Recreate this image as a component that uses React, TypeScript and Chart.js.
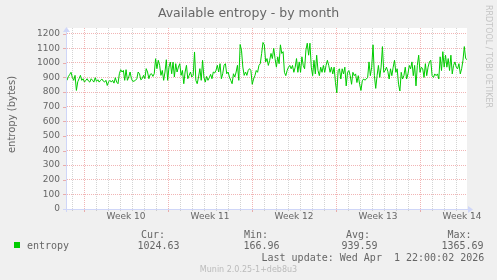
import { useEffect, useRef } from 'react';
import { Chart, registerables } from 'chart.js';

Chart.register(...registerables);

// ---------- data ----------
const TITLE = 'Available entropy - by month';
const Y_LABEL = 'entropy (bytes)';
const SERIES_NAME = 'entropy';
const SIDE_TEXT = 'RRDTOOL / TOBI OETIKER';
const FOOTER = 'Munin 2.0.25-1+deb8u3';
const LAST_UPDATE = 'Last update: Wed Apr  1 22:00:02 2026';

const RANGE_HOURS = 800; // graph spans 800 hours
const FIRST_DAY_HOUR = 10; // first midnight after the graph start
const FIRST_WEEK_HOUR = 34; // first week boundary after the graph start
const WEEK_LABELS = ['Week 10', 'Week 11', 'Week 12', 'Week 13', 'Week 14'];
const Y_TICKS = [0, 100, 200, 300, 400, 500, 600, 700, 800, 900, 1000, 1100, 1200];
const Y_MAX = 1238;

const LEGEND_HEADERS = ['Cur:', 'Min:', 'Avg:', 'Max:'];
const LEGEND_VALUES = ['1024.63', '166.96', '939.59', '1365.69'];

const entropy = [
  880, 905, 920, 935, 900, 880, 914, 811, 870, 891, 914, 880, 891, 868, 880, 891, 875, 868, 891, 880,
  868, 898, 873, 884, 868, 880, 889, 875, 868, 880, 845, 870, 880, 868, 880, 861, 898, 868, 857,
  925, 953, 937, 948, 880, 953, 880, 903, 937, 891,
  873, 875, 880, 891, 937, 925, 884, 891, 914, 891,
  960, 937, 891, 921, 925, 907, 925, 1028, 960, 1017,
  983, 914, 948, 880, 937, 1021, 880, 971, 1005, 925,
  1005, 903, 994, 937, 971, 994, 914, 948, 857, 937,
  983, 891, 914, 937, 903, 914, 1074, 880, 857, 903,
  960, 880, 1017, 903, 868, 907, 880, 898, 921, 891,
  937, 930, 948, 983, 937, 994, 891, 925, 983, 994,
  925, 937, 903, 880, 857, 925, 903, 937, 983, 880,
  1125, 1086, 971, 914, 937, 914, 948, 960,
  947, 853, 889, 912, 947, 935, 982, 994, 1064, 1139,
  1123, 1006, 1029, 982, 1017, 1064, 1029, 1099, 1029, 970,
  1041, 994, 1123, 1064, 1076, 935, 912, 947, 970, 982,
  959, 982, 935, 970, 1029, 935, 1006, 935, 1041, 982,
  959, 1088, 1134, 1052, 1134, 970, 912, 1017, 924, 1052,
  947, 912, 970, 935, 982, 935, 982, 1017, 982, 935,
  970, 924, 970, 865, 795, 947, 959, 889, 959, 924,
  970, 842, 935, 947, 912, 853, 935, 912, 924, 865,
  912, 853, 811, 877, 889, 881, 889, 900, 1006, 912,
  970, 1123, 912, 825, 912, 982, 900, 970, 1111, 935,
  947, 970, 942, 889, 959, 912, 970, 1017, 935, 959,
  853, 807, 935, 889, 912, 970, 889, 924, 982, 959,
  1006, 912, 982, 842, 982, 1052, 935, 970, 959, 900,
  994, 912, 970, 1006, 1017, 912, 900, 924, 912, 924,
  889, 1041, 947, 1076, 970, 1052, 970, 1029, 947, 1052,
  924, 982, 1006, 970, 959, 994, 924, 959, 1017, 1111,
  1029, 1022,
];

// ---------- derived ----------
const DAY_TICKS: number[] = [];
for (let h = FIRST_DAY_HOUR; h <= RANGE_HOURS; h += 24) DAY_TICKS.push(h);
const WEEK_CENTERS = WEEK_LABELS.map((_, i) => FIRST_WEEK_HOUR + 84 + 168 * i);
const X_TICKS = [...DAY_TICKS, ...WEEK_CENTERS].sort((a, b) => a - b);
const isWeekBoundary = (v: number) => (v - FIRST_WEEK_HOUR) % 168 === 0;

const points = entropy.map((v, i) => ({ x: (i * RANGE_HOURS) / (entropy.length - 1), y: v }));

const MAJOR = 'rgba(222,79,79,0.42)';
const MINOR = 'rgba(143,143,143,0.38)';
const AXIS = '#CFD6F8';
const FONT = '#666666';

const rrdPlugin = {
  id: 'rrd',
  beforeDraw(chart: any) {
    const { ctx, chartArea: ca, width, height } = chart;
    ctx.save();
    ctx.fillStyle = '#F0F0F0';
    ctx.fillRect(0, 0, width, height);
    ctx.fillStyle = '#FFFFFF';
    ctx.fillRect(ca.left, ca.top, ca.right - ca.left, ca.bottom - ca.top);
    ctx.restore();
  },
  afterDraw(chart: any) {
    const { ctx, chartArea: ca } = chart;
    const xs = chart.scales.x;
    const ys = chart.scales.y;
    ctx.save();
    // small tick marks outside the plot
    ctx.lineWidth = 1;
    ctx.strokeStyle = MAJOR;
    Y_TICKS.forEach((v) => {
      const y = Math.round(ys.getPixelForValue(v)) + 0.5;
      ctx.beginPath();
      ctx.moveTo(ca.left - 4, y);
      ctx.lineTo(ca.left, y);
      ctx.stroke();
    });
    DAY_TICKS.forEach((v) => {
      const x = Math.round(xs.getPixelForValue(v)) + 0.5;
      ctx.strokeStyle = isWeekBoundary(v) ? MAJOR : MINOR;
      ctx.beginPath();
      ctx.moveTo(x, ca.bottom);
      ctx.lineTo(x, ca.bottom + (isWeekBoundary(v) ? 3 : 2));
      ctx.stroke();
    });
    // axes with arrows
    ctx.strokeStyle = AXIS;
    ctx.fillStyle = AXIS;
    const ax = ca.left - 0.5;
    const ay = ca.bottom + 0.5;
    ctx.beginPath();
    ctx.moveTo(ca.left - 4, ay);
    ctx.lineTo(ca.right + 2, ay);
    ctx.moveTo(ax, ca.bottom + 3);
    ctx.lineTo(ax, ca.top + 3);
    ctx.stroke();
    ctx.beginPath();
    ctx.moveTo(ca.right + 6, ay);
    ctx.lineTo(ca.right + 1, ay - 3.5);
    ctx.lineTo(ca.right + 1, ay + 3.5);
    ctx.closePath();
    ctx.fill();
    ctx.beginPath();
    ctx.moveTo(ax, ca.top - 1);
    ctx.lineTo(ax - 3.5, ca.top + 4);
    ctx.lineTo(ax + 3.5, ca.top + 4);
    ctx.closePath();
    ctx.fill();

    // texts
    ctx.fillStyle = FONT;
    ctx.textBaseline = 'alphabetic';
    ctx.font = '12.5px "DejaVu Sans"';
    ctx.textAlign = 'center';
    ctx.fillText(TITLE, 248.5, 17);

    ctx.save();
    ctx.font = '10px "DejaVu Sans"';
    ctx.translate(15, 114.5);
    ctx.rotate(-Math.PI / 2);
    ctx.textAlign = 'center';
    ctx.fillText(Y_LABEL, 0, 0);
    ctx.restore();

    ctx.save();
    ctx.fillStyle = '#C4C4C4';
    ctx.font = '8px "DejaVu Sans"';
    ctx.translate(486, 5);
    ctx.rotate(Math.PI / 2);
    ctx.textAlign = 'left';
    ctx.fillText(SIDE_TEXT, 0, 0);
    ctx.restore();

    // legend
    ctx.font = '10px "DejaVu Sans Mono"';
    ctx.textAlign = 'left';
    const headX = [141, 244, 346, 447.5];
    const valX = [137.5, 243.5, 341.5, 441.5];
    LEGEND_HEADERS.forEach((t, i) => ctx.fillText(t, headX[i], 237.5));
    ctx.fillText(SERIES_NAME, 27, 249);
    LEGEND_VALUES.forEach((t, i) => ctx.fillText(t, valX[i], 249));
    ctx.fillText(LAST_UPDATE, 261.5, 261);
    ctx.fillStyle = '#00CC00';
    ctx.fillRect(14, 242, 6, 6);

    ctx.fillStyle = '#BBBBBB';
    ctx.font = '8px "DejaVu Sans"';
    ctx.textAlign = 'center';
    ctx.fillText(FOOTER, 248.5, 272);
    ctx.restore();
  },
};

export default function App() {
  const ref = useRef<HTMLCanvasElement | null>(null);

  useEffect(() => {
    document.body.style.margin = '0';
    document.body.style.background = '#F0F0F0';
    const canvas = ref.current;
    if (!canvas) return;
    const chart = new Chart(canvas, {
      type: 'line',
      data: {
        datasets: [
          {
            label: SERIES_NAME,
            data: points,
            borderColor: '#00CC00',
            borderWidth: 1,
            pointRadius: 0,
            tension: 0,
            fill: false,
          },
        ],
      },
      options: {
        responsive: false,
        animation: false,
        devicePixelRatio: 1,
        events: [],
        layout: { padding: { left: 0, right: 30, top: 28, bottom: 0 } },
        plugins: {
          legend: { display: false },
          title: { display: false },
          tooltip: { enabled: false },
        },
        scales: {
          x: {
            type: 'linear',
            min: 0,
            max: RANGE_HOURS,
            afterFit: (s: any) => {
              s.height = 71;
            },
            afterBuildTicks: (s: any) => {
              s.ticks = X_TICKS.map((v) => ({ value: v }));
            },
            ticks: {
              autoSkip: false,
              maxRotation: 0,
              minRotation: 0,
              padding: 2,
              color: FONT,
              font: { family: 'DejaVu Sans', size: 9 },
              callback: (v: any) => {
                const i = WEEK_CENTERS.indexOf(Number(v));
                return i >= 0 ? WEEK_LABELS[i] : '';
              },
            },
            grid: {
              drawTicks: false,
              lineWidth: (c: any) => (WEEK_CENTERS.includes(c.tick?.value) ? 0 : 1),
              color: (c: any) => (isWeekBoundary(c.tick?.value) ? MAJOR : MINOR),
            },
            border: { display: false, dash: [1, 1] },
          },
          y: {
            type: 'linear',
            min: 0,
            max: Y_MAX,
            afterFit: (s: any) => {
              s.width = 67;
            },
            afterBuildTicks: (s: any) => {
              s.ticks = Y_TICKS.map((v) => ({ value: v }));
            },
            ticks: {
              padding: 7,
              color: FONT,
              font: { family: 'DejaVu Sans', size: 9 },
              callback: (v: any) => String(v),
            },
            grid: { drawTicks: false, color: MAJOR, lineWidth: 1 },
            border: { display: false, dash: [1, 1] },
          },
        },
      },
      plugins: [rrdPlugin],
    });
    return () => chart.destroy();
  }, []);

  return (
    <div style={{ position: 'absolute', left: 0, top: 0, width: 497, height: 280 }}>
      <canvas ref={ref} width={497} height={280} style={{ display: 'block', width: 497, height: 280 }} />
    </div>
  );
}
